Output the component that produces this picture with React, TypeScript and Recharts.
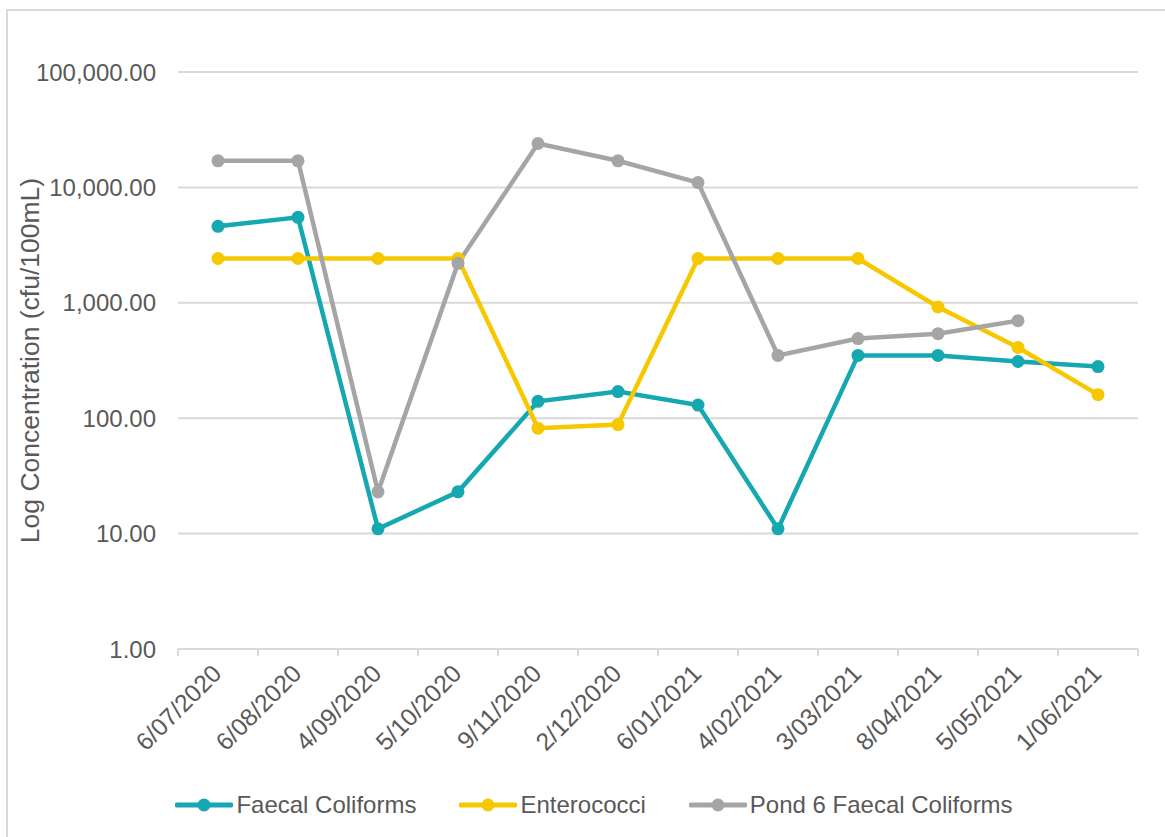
import * as React from "react";
import { LineChart, Line, XAxis, YAxis, CartesianGrid, Legend } from "recharts";

const dates = [
  "6/07/2020", "6/08/2020", "4/09/2020", "5/10/2020", "9/11/2020", "2/12/2020",
  "6/01/2021", "4/02/2021", "3/03/2021", "8/04/2021", "5/05/2021", "1/06/2021",
];
const faecalColiforms = [4600, 5500, 11, 23, 140, 170, 130, 11, 350, 350, 310, 280];
const enterococci = [2420, 2420, 2420, 2420, 82, 88, 2420, 2420, 2420, 920, 410, 160];
const pond6Faecal = [17000, 17000, 23, 2200, 24000, 17000, 11000, 350, 490, 540, 700, null];
const yTicks = [1, 10, 100, 1000, 10000, 100000];

const series = [
  { key: "faecal", name: "Faecal Coliforms", color: "#16A8B1" },
  { key: "entero", name: "Enterococci", color: "#F7C700" },
  { key: "pond6", name: "Pond 6 Faecal Coliforms", color: "#A5A5A5" },
];

const data = dates.map((date, i) => ({
  date,
  faecal: faecalColiforms[i],
  entero: enterococci[i],
  pond6: pond6Faecal[i],
}));

const W = 1165;
const H = 837;
const MARGIN = { top: 72, right: 27, left: 0, bottom: 0 };
const Y_AXIS_W = 178;
const PLOT_W = W - MARGIN.left - MARGIN.right - Y_AXIS_W;
const STEP = PLOT_W / dates.length;
const FONT = "'Liberation Sans', Arial, sans-serif";
const TEXT = "#595959";
const GRID = "#d9d9d9";

const fmt = (v: number) =>
  v.toLocaleString("en-US", { minimumFractionDigits: 2, maximumFractionDigits: 2 });

// category ticks sit between the dates, like Excel's boundary ticks
function DateTick(props: any) {
  const { x, y, payload, index } = props;
  const axisY = y - 8;
  return (
    <g>
      <line x1={x - STEP / 2} x2={x - STEP / 2} y1={axisY} y2={axisY + 7} stroke={GRID} strokeWidth={2} />
      {index === dates.length - 1 && (
        <line x1={x + STEP / 2} x2={x + STEP / 2} y1={axisY} y2={axisY + 7} stroke={GRID} strokeWidth={2} />
      )}
      <text
        x={0}
        y={0}
        transform={`translate(${x - 1},${y + 12}) rotate(-45)`}
        textAnchor="end"
        dominantBaseline="central"
        fill={TEXT}
        fontSize={24.5}
        fontFamily={FONT}
      >
        {payload.value}
      </text>
    </g>
  );
}

function YLabel(props: any) {
  const { viewBox } = props;
  const cx = viewBox.x + 30;
  const cy = viewBox.y + viewBox.height / 2;
  return (
    <text
      x={cx}
      y={cy}
      transform={`rotate(-90, ${cx}, ${cy})`}
      textAnchor="middle"
      dominantBaseline="central"
      fill={TEXT}
      fontSize={26.5}
      fontFamily={FONT}
    >
      Log Concentration (cfu/100mL)
    </text>
  );
}

function LegendContent() {
  return (
    <div style={{ display: "flex", justifyContent: "center", alignItems: "center", gap: 43, paddingLeft: 50 }}>
      {series.map((s) => (
        <div key={s.key} style={{ display: "flex", alignItems: "center" }}>
          <svg width={58} height={16} style={{ marginRight: 3 }}>
            <line x1={2} x2={56} y1={8} y2={8} stroke={s.color} strokeWidth={5} strokeLinecap="round" />
            <circle cx={29} cy={8} r={6.5} fill={s.color} />
          </svg>
          <span style={{ color: TEXT, fontSize: 24, fontFamily: FONT }}>{s.name}</span>
        </div>
      ))}
    </div>
  );
}

export default function App() {
  return (
    <div style={{ position: "absolute", left: 0, top: 0, width: W, height: H, background: "#fff", overflow: "hidden" }}>
      <div
        style={{
          position: "absolute",
          left: 6,
          top: 9,
          width: W + 20,
          height: H + 20,
          border: `2px solid ${GRID}`,
          boxSizing: "border-box",
        }}
      />
      <LineChart width={W} height={H} data={data} margin={MARGIN}>
        <CartesianGrid vertical={false} stroke={GRID} strokeWidth={2} />
        <XAxis
          dataKey="date"
          interval={0}
          padding={{ left: STEP / 2, right: STEP / 2 }}
          tickLine={false}
          axisLine={{ stroke: GRID, strokeWidth: 2 }}
          tick={<DateTick />}
          height={142}
        />
        <YAxis
          scale="log"
          domain={[1, 100000]}
          ticks={yTicks}
          allowDataOverflow
          width={Y_AXIS_W}
          axisLine={false}
          tickLine={false}
          tickMargin={16}
          tickFormatter={fmt}
          tick={{ fill: TEXT, fontSize: 24, fontFamily: FONT }}
          label={<YLabel />}
        />
        <Legend verticalAlign="bottom" content={<LegendContent />} wrapperStyle={{ height: 46 }} />
        {series.map((s) => (
          <Line
            key={s.key}
            dataKey={s.key}
            name={s.name}
            stroke={s.color}
            strokeWidth={4.5}
            dot={{ r: 6.5, fill: s.color, stroke: s.color, strokeWidth: 0 }}
            isAnimationActive={false}
          />
        ))}
      </LineChart>
    </div>
  );
}
